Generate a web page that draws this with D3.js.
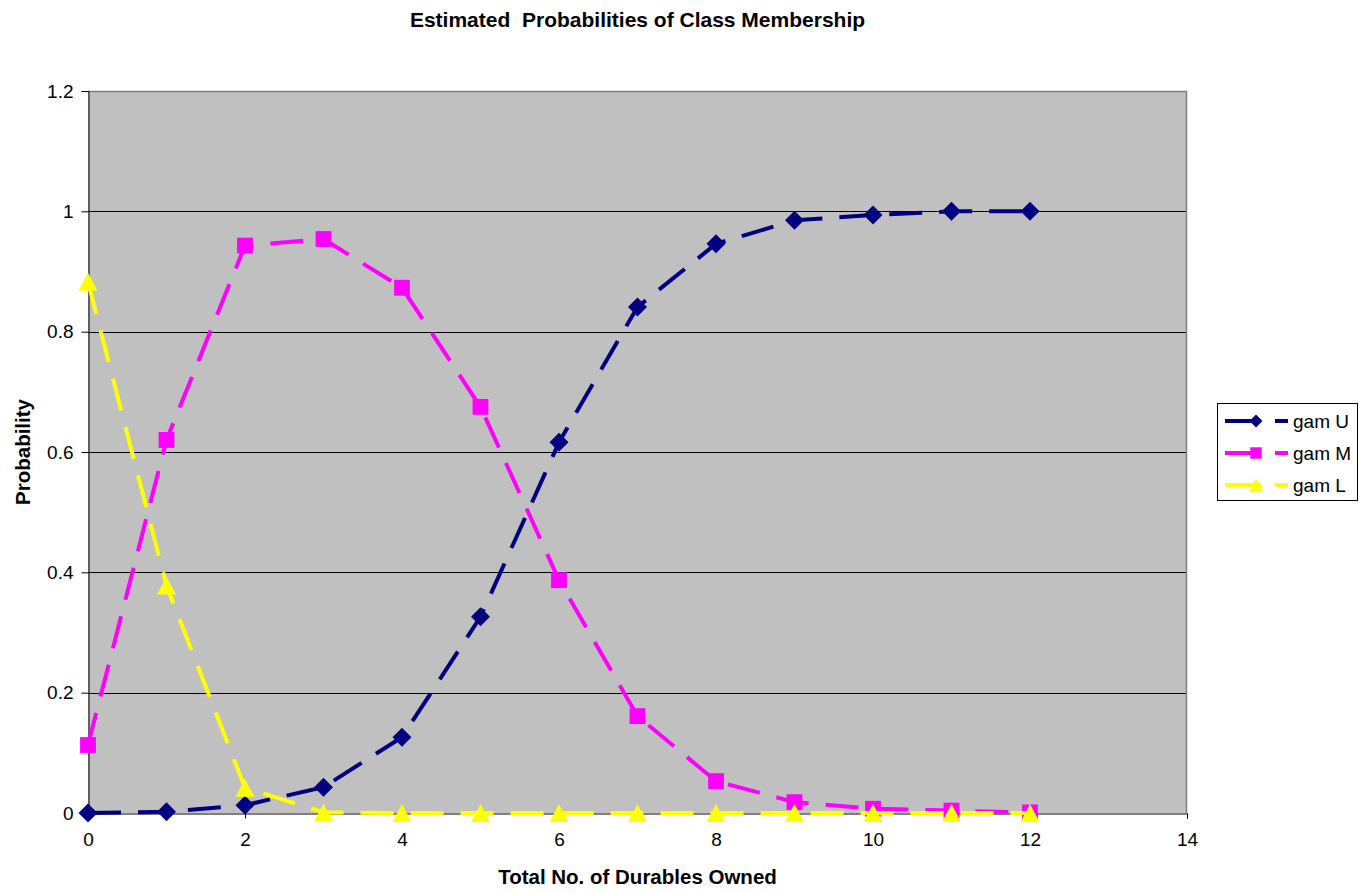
<!DOCTYPE html>
<html>
<head>
<meta charset="utf-8">
<script src="https://cdn.jsdelivr.net/npm/d3@7"></script>
<style>
  html, body { margin: 0; padding: 0; background: #ffffff; }
  svg { display: block; font-family: "Liberation Sans", Arial, sans-serif; }
</style>
</head>
<body>
<svg id="chart" width="1359" height="893"></svg>
<script>
// Number of durables owned (x) and estimated class-membership probabilities
const durables = [0, 1, 2, 3, 4, 5, 6, 7, 8, 9, 10, 11, 12];
const gamU = [0.000, 0.002, 0.013, 0.043, 0.126, 0.326, 0.616, 0.841, 0.946, 0.985, 0.994, 1.000, 1.000];
const gamM = [0.113, 0.620, 0.943, 0.954, 0.873, 0.675, 0.387, 0.161, 0.053, 0.018, 0.007, 0.004, 0.001];
const gamL = [0.883, 0.378, 0.042, 0.001, 0.000, 0.000, 0.000, 0.000, 0.000, 0.000, 0.000, 0.000, 0.000];
const seriesNames = ["gam U", "gam M", "gam L"];
const xTicks = [0, 2, 4, 6, 8, 10, 12, 14];
const yTicks = [0, 0.2, 0.4, 0.6, 0.8, 1, 1.2];

const chartTitle = "Estimated  Probabilities of Class Membership";
const xTitle = "Total No. of Durables Owned";
const yTitle = "Probability";

const series = [
  { name: seriesNames[0], values: gamU, color: "#000080", marker: "diamond" },
  { name: seriesNames[1], values: gamM, color: "#ff00ff", marker: "square" },
  { name: seriesNames[2], values: gamL, color: "#ffff00", marker: "triangle" }
];

const svg = d3.select("#chart");
const plot = { left: 88, right: 1187, top: 91, bottom: 813 };

const x = d3.scaleLinear().domain([0, 14]).range([plot.left, plot.right]);
const y = d3.scaleLinear().domain([0, 1.2]).range([plot.bottom, plot.top]);

// marker shapes centred on their bounding box
function markerPath(type, s) {
  const p = d3.path();
  const h = s / 2;
  if (type === "diamond") {
    p.moveTo(0, -h); p.lineTo(h, 0); p.lineTo(0, h); p.lineTo(-h, 0); p.closePath();
  } else if (type === "square") {
    const q = h * 0.88;
    p.rect(-q, -q, 2 * q, 2 * q);
  } else {
    const w = h * 1.05;
    p.moveTo(0, -h); p.lineTo(w, h); p.lineTo(-w, h); p.closePath();
  }
  return p.toString();
}

// plot background
svg.append("rect")
  .attr("x", plot.left).attr("y", plot.top)
  .attr("width", plot.right - plot.left).attr("height", plot.bottom - plot.top)
  .attr("fill", "#c0c0c0");

// horizontal gridlines
svg.append("g")
  .selectAll("line")
  .data(yTicks.filter(t => t > 0 && t < 1.2))
  .join("line")
  .attr("x1", plot.left).attr("x2", plot.right)
  .attr("y1", d => Math.round(y(d)) + 0.5).attr("y2", d => Math.round(y(d)) + 0.5)
  .attr("stroke", "#000").attr("stroke-width", 1);

// grey frame on top and right
svg.append("path")
  .attr("d", `M${plot.left},${plot.top + 0.5}H${plot.right - 0.5}V${plot.bottom}`)
  .attr("fill", "none").attr("stroke", "#808080").attr("stroke-width", 1.5);

// y axis
const yAxis = d3.axisLeft(y).tickValues(yTicks).tickSize(7).tickPadding(8)
  .tickFormat(d => d3.format("")(+d.toFixed(1)));
const gy = svg.append("g")
  .attr("transform", `translate(${plot.left + 0.5},0)`)
  .call(yAxis);
gy.select(".domain").attr("stroke", "#000");
gy.selectAll(".tick line").attr("stroke", "#000");
gy.selectAll(".tick text").attr("font-size", 19).attr("fill", "#000")
  .attr("font-family", "'Liberation Sans', Arial, sans-serif");

// x axis
const xAxis = d3.axisBottom(x).tickValues(xTicks).tickSize(5).tickPadding(14)
  .tickFormat(d3.format("d"));
const gx = svg.append("g")
  .attr("transform", `translate(0,${plot.bottom + 0.5})`)
  .call(xAxis);
gx.select(".domain").attr("stroke", "#000");
gx.selectAll(".tick line").attr("stroke", "#000");
gx.selectAll(".tick text").attr("font-size", 19).attr("fill", "#000")
  .attr("font-family", "'Liberation Sans', Arial, sans-serif");

// series lines and markers
const line = d3.line().x((d, i) => x(durables[i])).y(d => y(d));
const markerSize = { diamond: 19, square: 18, triangle: 18 };

series.forEach(s => {
  svg.append("path")
    .datum(s.values)
    .attr("d", line)
    .attr("fill", "none")
    .attr("stroke", s.color)
    .attr("stroke-width", 4)
    .attr("stroke-dasharray", "33,17")
    .attr("stroke-linejoin", "round");
  svg.append("g")
    .selectAll("path")
    .data(s.values)
    .join("path")
    .attr("transform", (d, i) => `translate(${x(durables[i])},${y(d)})`)
    .attr("d", markerPath(s.marker, markerSize[s.marker]))
    .attr("fill", s.color);
});

// chart title
svg.append("text")
  .attr("x", (plot.left + plot.right) / 2).attr("y", 27)
  .attr("text-anchor", "middle")
  .attr("font-size", 21).attr("font-weight", "bold")
  .style("white-space", "pre")
  .text(chartTitle);

// axis titles
svg.append("text")
  .attr("x", (plot.left + plot.right) / 2).attr("y", 884)
  .attr("text-anchor", "middle")
  .attr("font-size", 20.5).attr("font-weight", "bold")
  .text(xTitle);

svg.append("text")
  .attr("transform", `translate(30,${(plot.top + plot.bottom) / 2}) rotate(-90)`)
  .attr("text-anchor", "middle")
  .attr("font-size", 20.5).attr("font-weight", "bold")
  .text(yTitle);

// legend
const legend = svg.append("g").attr("transform", "translate(1217,403)");
legend.append("rect")
  .attr("x", 0.5).attr("y", 0.5).attr("width", 140).attr("height", 97)
  .attr("fill", "#fff").attr("stroke", "#000").attr("stroke-width", 1);

const rows = legend.selectAll("g.row")
  .data(series)
  .join("g")
  .attr("class", "row")
  .attr("transform", (d, i) => `translate(0,${18 + i * 32})`);
rows.append("line")
  .attr("x1", 8).attr("x2", 44).attr("y1", 0).attr("y2", 0)
  .attr("stroke", d => d.color).attr("stroke-width", 4);
rows.append("line")
  .attr("x1", 58).attr("x2", 71).attr("y1", 0).attr("y2", 0)
  .attr("stroke", d => d.color).attr("stroke-width", 4);
rows.append("path")
  .attr("transform", "translate(39,0)")
  .attr("d", d => markerPath(d.marker, 13))
  .attr("fill", d => d.color);
rows.append("text")
  .attr("x", 76).attr("y", 0).attr("dy", "0.35em")
  .attr("font-size", 19)
  .text(d => d.name);
</script>
</body>
</html>
